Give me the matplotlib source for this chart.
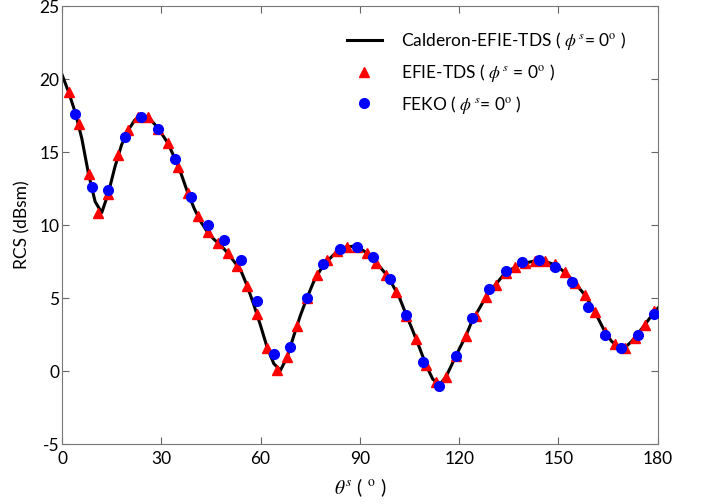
import matplotlib.pyplot as plt

# Calderon-EFIE-TDS (solid line)
line_theta = list(range(0, 181, 2))
line_rcs = [20.3, 19.1, 17.7, 15.9, 13.5, 11.6, 10.85, 12.2, 14.0, 15.5,
            16.5, 17.2, 17.5, 17.4, 16.9, 16.3, 15.6, 14.6, 13.5, 12.2,
            11.1, 10.2, 9.5, 9.0, 8.6, 8.1, 7.5, 6.9, 5.8, 4.5,
            3.1, 1.6, 0.5, 0.05, 0.95, 2.4, 3.8, 5.0, 6.1, 6.9,
            7.5, 7.95, 8.3, 8.5, 8.55, 8.4, 8.1, 7.65, 7.15, 6.6,
            5.85, 5.0, 3.85, 2.75, 1.6, 0.4, -0.55, -0.95, -0.4, 0.55,
            1.5, 2.4, 3.5, 4.25, 5.05, 5.65, 6.2, 6.75, 7.0, 7.25,
            7.4, 7.5, 7.55, 7.5, 7.35, 7.1, 6.75, 6.3, 5.75, 5.2,
            4.45, 3.6, 2.7, 2.05, 1.65, 1.6, 2.0, 2.55, 3.15, 3.75, 4.3]

# EFIE-TDS (red triangles)
efie_theta = list(range(2, 180, 3))
efie_rcs = [19.1, 16.9, 13.5, 10.8, 12.1, 14.8, 16.5, 17.4, 17.4, 16.6,
            15.6, 14.0, 12.2, 10.6, 9.5, 8.8, 8.1, 7.2, 5.8, 3.9,
            1.6, 0.05, 0.95, 3.1, 5.0, 6.6, 7.6, 8.2, 8.5, 8.5,
            8.1, 7.4, 6.6, 5.4, 3.8, 2.2, 0.4, -0.75, -0.4, 1.0,
            2.4, 3.8, 5.05, 5.9, 6.7, 7.1, 7.4, 7.55, 7.55, 7.3,
            6.8, 6.0, 5.2, 4.05, 2.7, 1.85, 1.6, 2.25, 3.15, 4.1]

# FEKO (blue circles)
feko_theta = list(range(4, 180, 5))
feko_rcs = [17.6, 12.6, 12.4, 16.0, 17.4, 16.6, 14.5, 11.9, 10.0, 9.0,
            7.6, 4.8, 1.15, 1.65, 5.0, 7.3, 8.35, 8.5, 7.8, 6.3,
            3.85, 0.65, -1.0, 1.0, 3.65, 5.6, 6.85, 7.45, 7.6, 7.15,
            6.1, 4.4, 2.5, 1.55, 2.5, 3.9]

x_ticks = [0, 30, 60, 90, 120, 150, 180]
y_ticks = [-5, 0, 5, 10, 15, 20, 25]

plt.rcParams['font.family'] = ['Lato', 'DejaVu Sans']
plt.rcParams['mathtext.fontset'] = 'stix'
plt.rcParams['axes.unicode_minus'] = False

fig = plt.figure(figsize=(7.05, 5.04), dpi=100)
ax = fig.add_axes([0.088, 0.119, 0.845, 0.869])

ax.plot(line_theta, line_rcs, color='black', linewidth=2.2,
        label=r'Calderon-EFIE-TDS ( $\phi^{\,s}$= 0$^{\rm o}$ )', zorder=2)
ax.plot(efie_theta, efie_rcs, linestyle='none', marker='^', color='red',
        markersize=7.5, label=r'EFIE-TDS ( $\phi^{\,s}$ = 0$^{\rm o}$ )', zorder=3)
ax.plot(feko_theta, feko_rcs, linestyle='none', marker='o', color='blue',
        markersize=7, label=r'FEKO ( $\phi^{\,s}$= 0$^{\rm o}$ )', zorder=4)

ax.set_xlim(0, 180)
ax.set_ylim(-5, 25)
ax.set_xticks(x_ticks)
ax.set_yticks(y_ticks)
ax.tick_params(direction='in', top=True, right=True, length=5,
               labelsize=12.5, color='#666666')
ax.tick_params(axis='x', pad=5)
ax.tick_params(axis='y', pad=2)
for s in ax.spines.values():
    s.set_color('#777777')

ax.set_xlabel(r'$\theta^{s}$ ( $^{\rm o}$ )', fontsize=14, labelpad=7)
ax.set_ylabel('RCS (dBsm)', fontsize=12.5, labelpad=6)

ax.legend(loc='upper left', bbox_to_anchor=(0.452, 0.98), frameon=False,
          fontsize=12.5, handlelength=2.0, labelspacing=0.55, handletextpad=1.1)

fig.savefig('out.png', dpi=100)
